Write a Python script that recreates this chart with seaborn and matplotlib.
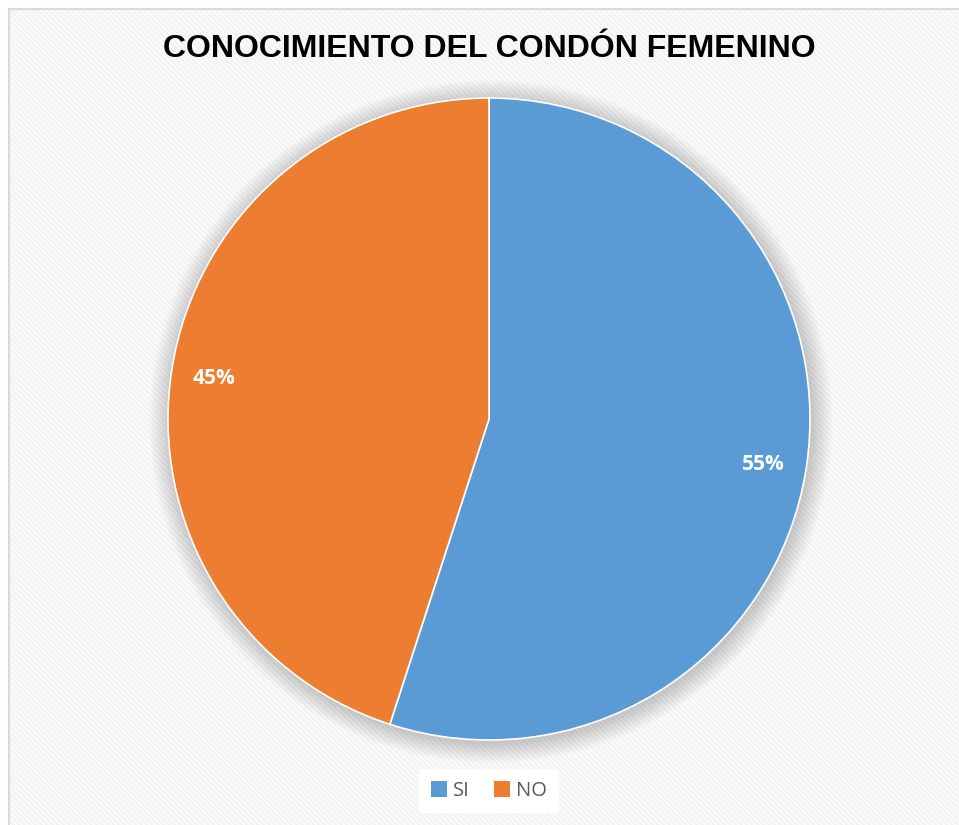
import matplotlib
matplotlib.use("Agg")
import matplotlib.pyplot as plt
import seaborn as sns
from matplotlib.patches import Rectangle, Circle, Patch

sns.set_style("white")

categories = ["SI", "NO"]
values = [55, 45]
colors = ["#5B9BD5", "#ED7D31"]
title = "CONOCIMIENTO DEL CONDÓN FEMENINO"

W, H = 959, 825
fig = plt.figure(figsize=(W / 100, H / 100), dpi=100)
fig.patch.set_facecolor("white")

# hatched chart area background with light gray border
plt.rcParams["hatch.linewidth"] = 2.0
bg = Rectangle((9 / W, 0), 1 - 9 / W + 0.01, 1 - 9 / H, transform=fig.transFigure,
               facecolor="white", edgecolor="#f3f3f3", hatch="\\\\\\\\\\\\", lw=0, zorder=-10)
fig.patches.append(bg)
border = Rectangle((8.5 / W, -0.01), 1.0, 1 - 8.5 / H + 0.01, transform=fig.transFigure,
                   fill=False, edgecolor="#d9d9d9", lw=1.5, zorder=-9)
fig.patches.append(border)

cx, cy, r = 489, 419, 321
half = 360
ax = fig.add_axes([(cx - half) / W, 1 - (cy + half) / H, 2 * half / W, 2 * half / H])
ax.axis("off")

# soft shadow
for i in range(16):
    rr = 1.0 + 0.004 * (16 - i)
    ax.add_patch(Circle((0.006, -0.008), rr, facecolor="#000000", alpha=0.012, lw=0, zorder=0))

wedges, texts, autotexts = ax.pie(
    values, colors=colors, startangle=90, counterclock=False, radius=1.0,
    autopct="%d%%", pctdistance=0.866,
    wedgeprops=dict(edgecolor="white", linewidth=1.2),
    textprops=dict(color="white", fontsize=15, fontweight="bold", family="Open Sans"),
)
for w in wedges:
    w.set_zorder(2)
for t in autotexts:
    t.set_zorder(3)
    t.set_va("center_baseline")

lim = half / r
ax.set_xlim(-lim, lim)
ax.set_ylim(-lim, lim)
ax.set_aspect("equal")

fig.text(489 / W, 1 - 49 / H, title, ha="center", va="center",
         fontsize=23, fontweight="bold", family="Liberation Sans", color="black")

handles = [Patch(facecolor=c, edgecolor="none") for c in colors]
leg = fig.legend(handles, categories, loc="center", bbox_to_anchor=(489 / W, 1 - 791 / H),
                 ncol=2, frameon=True, handlelength=0.8, handleheight=0.8,
                 handletextpad=0.3, columnspacing=1.2, borderpad=0.6,
                 prop=dict(family="Open Sans", size=14.5))
leg.get_frame().set_facecolor("white")
leg.get_frame().set_edgecolor("none")
leg.get_frame().set_alpha(1)
for t in leg.get_texts():
    t.set_color("#595959")

fig.savefig("out.png", dpi=100)
